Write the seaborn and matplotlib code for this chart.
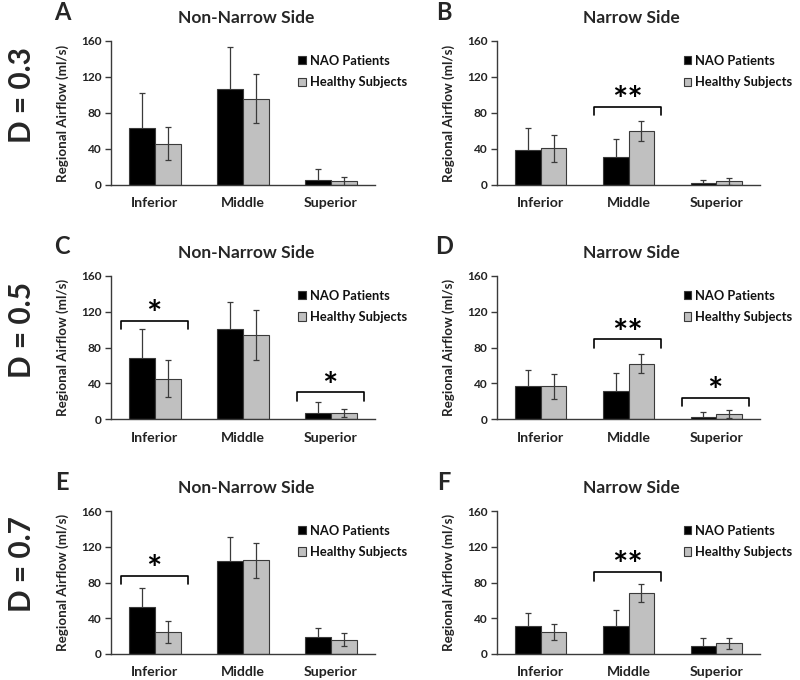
import numpy as np
import pandas as pd
import matplotlib
matplotlib.use("Agg")
import matplotlib.pyplot as plt
import seaborn as sns

# ---------------- data ----------------
categories = ["Inferior", "Middle", "Superior"]
groups = ["NAO Patients", "Healthy Subjects"]

A_nao = [63, 107, 6]
A_nao_sd = [39, 46, 12]
A_hs = [46, 96, 4]
A_hs_sd = [18, 27, 5]

B_nao = [39, 31, 2]
B_nao_sd = [24, 20, 3.5]
B_hs = [41, 60, 4]
B_hs_sd = [15, 11.5, 4]

C_nao = [68.5, 101, 7]
C_nao_sd = [32.5, 30, 12]
C_hs = [45, 94, 7]
C_hs_sd = [20.5, 28, 4.5]

D_nao = [36.5, 31.5, 2]
D_nao_sd = [18, 20, 5.5]
D_hs = [36.5, 62, 5.5]
D_hs_sd = [14, 11, 4.5]

E_nao = [53, 104, 19]
E_nao_sd = [21, 27, 10]
E_hs = [24.5, 105, 16]
E_hs_sd = [12, 19.5, 7.5]

F_nao = [31.5, 31, 9]
F_nao_sd = [14.5, 18, 9]
F_hs = [24.5, 68.5, 12]
F_hs_sd = [9.3, 10, 6]

# significance brackets: (category index, bracket height, label)
A_sig = []
B_sig = [(1, 87, "**")]
C_sig = [(0, 110, "*"), (2, 30, "*")]
D_sig = [(1, 89, "**"), (2, 23.5, "*")]
E_sig = [(0, 87.5, "*")]
F_sig = [(1, 91.6, "**")]

panel_letters = ["A", "B", "C", "D", "E", "F"]
panel_titles = ["Non-Narrow Side", "Narrow Side"] * 3
row_labels = ["D = 0.3", "D = 0.5", "D = 0.7"]
y_ticks = [0, 40, 80, 120, 160]
y_label = "Regional Airflow (ml/s)"

panels = [
    (A_nao, A_nao_sd, A_hs, A_hs_sd, A_sig),
    (B_nao, B_nao_sd, B_hs, B_hs_sd, B_sig),
    (C_nao, C_nao_sd, C_hs, C_hs_sd, C_sig),
    (D_nao, D_nao_sd, D_hs, D_hs_sd, D_sig),
    (E_nao, E_nao_sd, E_hs, E_hs_sd, E_sig),
    (F_nao, F_nao_sd, F_hs, F_hs_sd, F_sig),
]

# ---------------- style ----------------
sns.set_style("white")
plt.rcParams["font.family"] = ["Lato", "DejaVu Sans"]
plt.rcParams["font.weight"] = "bold"

W, H = 800, 680
fig = plt.figure(figsize=(W / 100, H / 100), dpi=100)

dark = "#3a3a3a"
gray = "#c0c0c0"

# axes pixel boxes (left, top, right, bottom)
col_x = [(111, 375), (497, 760)]
row_y = [(41, 185), (276, 419), (511, 654)]

for i, (nao, nao_sd, hs, hs_sd, sig) in enumerate(panels):
    r, c = divmod(i, 2)
    x0, x1 = col_x[c]
    yt, yb = row_y[r]
    ax = fig.add_axes([x0 / W, 1 - yb / H, (x1 - x0) / W, (yb - yt) / H])

    df = pd.DataFrame({
        "Region": categories * 2,
        "Group": [groups[0]] * 3 + [groups[1]] * 3,
        "Airflow": list(nao) + list(hs),
    })
    sns.barplot(data=df, x="Region", y="Airflow", hue="Group",
                order=categories, hue_order=groups,
                palette=["black", gray], edgecolor=dark, linewidth=0.8,
                width=0.58, errorbar=None, legend=False, ax=ax, zorder=2)

    for k, (cont, sds) in enumerate(zip(ax.containers[:2], [nao_sd, hs_sd])):
        xs = [b.get_x() + b.get_width() / 2 for b in cont]
        ys = [b.get_height() for b in cont]
        ax.errorbar(xs, ys, yerr=sds, fmt="none", ecolor=dark,
                    elinewidth=0.9, capsize=2.2, capthick=0.9,
                    zorder=1 if k == 0 else 3)

    for (ci, top, lab) in sig:
        xl, xr = ci - 0.39, ci + 0.37
        ax.plot([xl, xl, xr, xr], [top - 9.5, top, top, top - 9.5],
                color="black", lw=1.2, zorder=4, clip_on=False)
        ax.text((xl + xr) / 2, top - 6, lab, ha="center", va="baseline",
                fontsize=26, fontweight="bold", color="black")

    ax.set_ylim(0, 160)
    ax.set_xlim(-0.5, 2.5)
    ax.set_yticks(y_ticks)
    ax.set_yticklabels([str(t) for t in y_ticks], fontsize=8.6,
                       fontweight="bold", color="#222222")
    ax.set_xticks([0, 1, 2])
    ax.set_xticklabels(categories, fontsize=10.2, fontweight="bold",
                       color="#222222")
    ax.set_xticks([-0.5, 0.5, 1.5, 2.5], minor=True)
    ax.tick_params(axis="x", which="major", length=0, pad=9)
    ax.tick_params(axis="x", which="minor", length=4, width=1,
                   color=dark, direction="out")
    ax.tick_params(axis="y", length=4, width=1, color=dark,
                   direction="out", pad=3, left=True)
    for s in ["top", "right"]:
        ax.spines[s].set_visible(False)
    for s in ["left", "bottom"]:
        ax.spines[s].set_color(dark)
        ax.spines[s].set_linewidth(1)
    ax.set_xlabel("")
    ax.set_ylabel(y_label, fontsize=9.6, fontweight="bold", color="#222222")
    ax.yaxis.set_label_coords(-0.16, 0.5)

    leg = ax.legend([ax.containers[0], ax.containers[1]], groups,
                    loc="upper left", bbox_to_anchor=(0.69, 0.94),
                    frameon=False, fontsize=9.3, handlelength=0.58,
                    handleheight=0.58, handletextpad=0.3,
                    labelspacing=0.72, borderaxespad=0)
    for t in leg.get_texts():
        t.set_fontweight("bold")
        t.set_color("#111111")

    # title and panel letter
    cx = (x0 + x1) / 2 + 3
    title_y = yt - 23
    fig.text(cx / W, 1 - title_y / H, panel_titles[i], ha="center",
             va="center", fontsize=12.5, fontweight="bold")
    letter_x = 62 if c == 0 else 444
    fig.text(letter_x / W, 1 - (yt - 29) / H, panel_letters[i], ha="center",
             va="center", fontsize=17, fontweight="bold")

for r, lab in enumerate(row_labels):
    yc = (row_y[r][0] + row_y[r][1]) / 2 - 18
    fig.text(22 / W, 1 - yc / H, lab, rotation=90, ha="center", va="center",
             fontsize=21.5, fontweight="bold")

fig.savefig("out.png", dpi=100, facecolor="white")
